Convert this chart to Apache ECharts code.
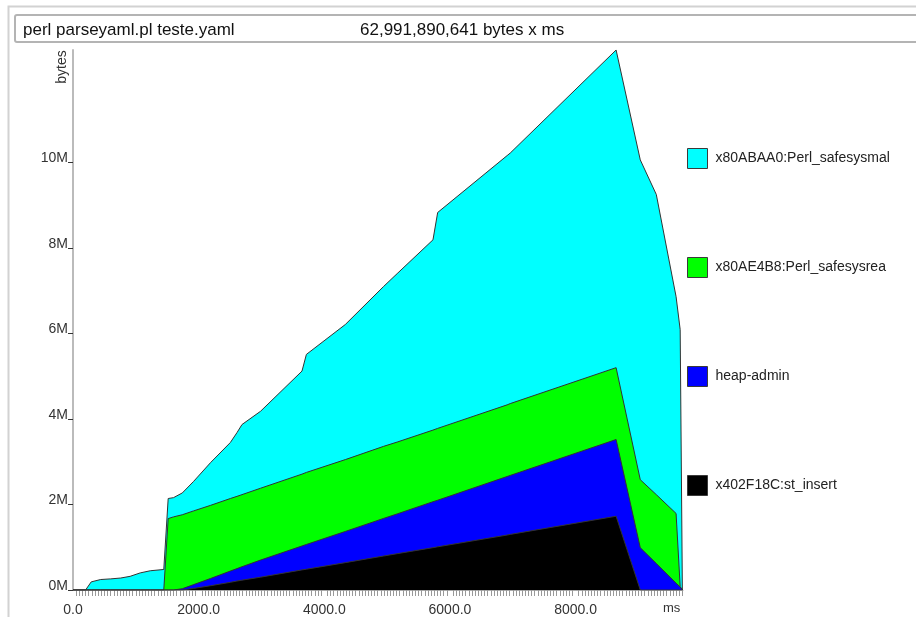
<!DOCTYPE html>
<html>
<head>
<meta charset="utf-8">
<script src="https://cdn.jsdelivr.net/npm/echarts@6/dist/echarts.min.js"></script>
<style>
  html, body { margin: 0; padding: 0; background: #fff; }
  #chart { width: 916px; height: 617px; }
</style>
</head>
<body>
<div id="chart"></div>
<script>
// Snapshot times (ms) shared by every band
const times = [0, 200, 290, 440, 600, 760, 910, 1070, 1230, 1445, 1515, 1600, 1740, 1920, 2190,
  2505, 2610, 2690, 2985, 3645, 3715, 4335, 4945, 5160, 5730, 5805, 6910, 6960, 8645, 9030,
  9285, 9600, 9665, 9700];

// Heap bytes (in M) per allocation site at each snapshot, bottom band first
const stInsert = [0, 0, 0, 0, 0, 0, 0, 0, 0, 0, 0, 0, 0, 0.037, 0.10,
  0.18, 0.21, 0.23, 0.30, 0.47, 0.486, 0.64, 0.795, 0.85, 0.99, 1.01, 1.285, 1.30, 1.725, 0,
  0, 0, 0, 0];
const heapAdmin = [0, 0, 0, 0, 0, 0, 0, 0, 0, 0, 0, 0, 0.03, 0.089, 0.17,
  0.264, 0.29, 0.315, 0.40, 0.56, 0.579, 0.73, 0.88, 0.93, 1.075, 1.09, 1.37, 1.38, 1.795, 0.99,
  0.62, 0.16, 0.07, 0];
const safesysrealloc = [0, 0, 0, 0, 0, 0, 0, 0, 0, 0, 1.67, 1.71, 1.73, 1.724, 1.71,
  1.696, 1.69, 1.685, 1.68, 1.68, 1.685, 1.68, 1.685, 1.68, 1.675, 1.68, 1.675, 1.68, 1.68, 1.59,
  1.61, 1.63, 0.01, 0];
const safesysmalloc = [0, 0, 0.19, 0.245, 0.26, 0.28, 0.32, 0.40, 0.45, 0.48, 0.47, 0.45, 0.51, 0.69, 1.00,
  1.31, 1.49, 1.64, 1.80, 2.41, 2.76, 3.16, 3.74, 3.94, 4.45, 5.05, 5.83, 5.86, 7.43, 7.48,
  7.02, 5.07, 6.01, 0];

const seriesNames = ['x402F18C:st_insert', 'heap-admin', 'x80AE4B8:Perl_safesysrea', 'x80ABAA0:Perl_safesysmal'];
const seriesColors = ['#000000', '#0000ff', '#00ff00', '#00ffff'];
const seriesValues = [stInsert, heapAdmin, safesysrealloc, safesysmalloc];

const yTicks = [0, 2, 4, 6, 8, 10];
const xTicks = [0, 2000, 4000, 6000, 8000];

const titleText = 'perl parseyaml.pl teste.yaml';
const totalText = '62,991,890,641 bytes x ms';

const FONT = '"Liberation Sans", Arial, sans-serif';

// Running totals: each band is filled from zero up to its cumulative top,
// with upper bands drawn first so the lower ones sit in front.
const cumulative = [];
seriesValues.forEach((vals, i) => {
  cumulative.push(vals.map((v, k) => v + (i > 0 ? cumulative[i - 1][k] : 0)));
});

const chart = echarts.init(document.getElementById('chart'), null, { renderer: 'canvas' });

const series = seriesNames.map((name, i) => ({
  name: name,
  type: 'line',
  symbol: 'none',
  showSymbol: false,
  data: times.map((t, k) => [t, +cumulative[i][k].toFixed(4)]),
  lineStyle: { color: '#333', width: 1 },
  itemStyle: { color: seriesColors[i] },
  areaStyle: { color: seriesColors[i], opacity: 1, origin: 'start' },
  z: 10 - i
}));

chart.setOption({
  animation: false,
  backgroundColor: '#fff',
  textStyle: { fontFamily: FONT },
  grid: { left: 73, right: 233, top: 50, bottom: 26.5, containLabel: false },
  legend: {
    orient: 'vertical',
    left: 687,
    top: 148,
    itemWidth: 20,
    itemHeight: 20,
    itemGap: 88,
    icon: 'rect',
    selectedMode: false,
    padding: 0,
    data: seriesNames.slice().reverse(),
    itemStyle: { borderColor: '#3a3a3a', borderWidth: 1 },
    textStyle: { fontSize: 14, color: '#222', fontFamily: FONT, padding: [8, 0, 0, 3] }
  },
  xAxis: {
    type: 'value',
    min: 0,
    max: 9710,
    interval: 2000,
    name: 'ms',
    nameLocation: 'end',
    nameGap: -20,
    nameTextStyle: { fontSize: 13, color: '#333', verticalAlign: 'top', padding: [12, 0, 0, 0] },
    axisLine: { show: true, lineStyle: { color: '#aaa', width: 1 } },
    axisTick: { show: false },
    minorTick: { show: true, splitNumber: 40, length: 6, lineStyle: { color: '#999', width: 1 } },
    splitLine: { show: false },
    axisLabel: {
      customValues: xTicks,
      margin: 13,
      fontSize: 14,
      color: '#333',
      formatter: v => v.toFixed(1)
    }
  },
  yAxis: {
    type: 'value',
    min: 0,
    max: 12.63,
    axisLine: { show: true, lineStyle: { color: '#bbb', width: 2 } },
    axisTick: { show: true, customValues: yTicks, length: 5, lineStyle: { color: '#333', width: 1 } },
    splitLine: { show: false },
    axisLabel: {
      customValues: yTicks,
      margin: 5,
      fontSize: 14,
      color: '#333',
      verticalAlign: 'bottom',
      lineHeight: 8,
      formatter: v => v + 'M'
    }
  },
  graphic: [
    {
      type: 'rect',
      silent: true,
      shape: { x: 8.5, y: 6.5, width: 1000, height: 1000 },
      style: { fill: 'none', stroke: '#d2d2d2', lineWidth: 2 }
    },
    {
      type: 'rect',
      silent: true,
      shape: { x: 15, y: 15, width: 1000, height: 27, r: 2 },
      style: { fill: '#fff', stroke: '#b4b4b4', lineWidth: 2 }
    },
    {
      type: 'text',
      silent: true,
      x: 23, y: 30,
      style: { text: titleText, font: '17px ' + FONT, fill: '#111', textVerticalAlign: 'middle' }
    },
    {
      type: 'text',
      silent: true,
      x: 360, y: 30,
      style: { text: totalText, font: '17px ' + FONT, fill: '#111', textVerticalAlign: 'middle' }
    },
    {
      type: 'text',
      silent: true,
      x: 62, y: 67,
      rotation: Math.PI / 2,
      style: { text: 'bytes', font: '14px ' + FONT, fill: '#333', align: 'center', verticalAlign: 'middle' }
    }
  ],
  series: series
});
</script>
</body>
</html>
